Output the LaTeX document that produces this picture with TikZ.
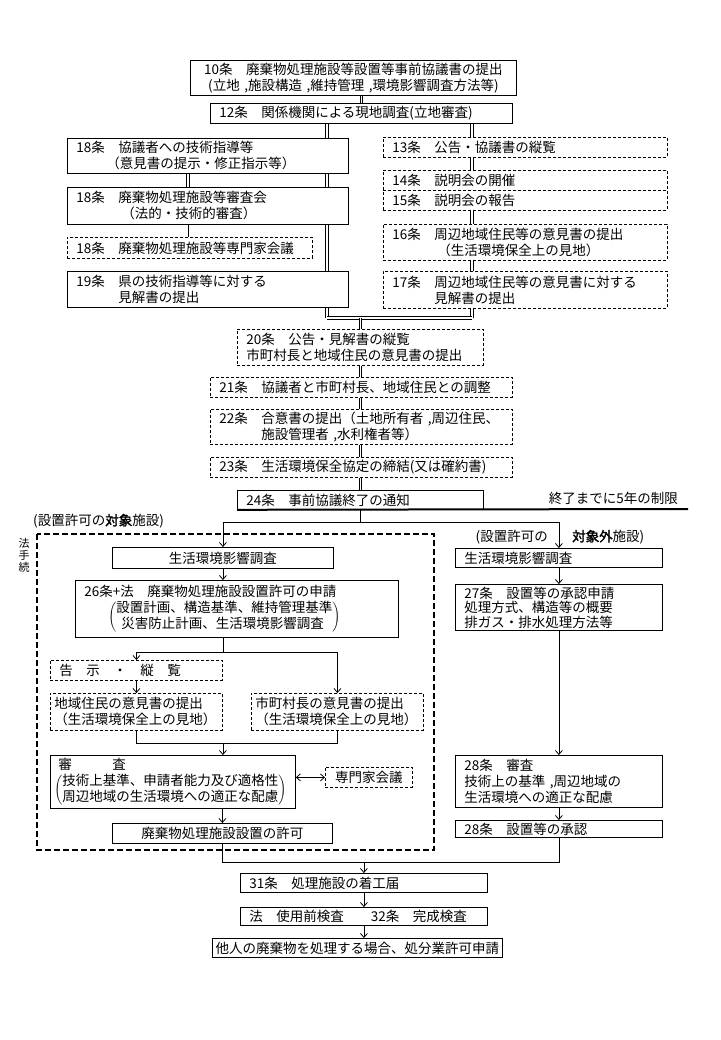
\documentclass[tikz,border=0pt]{standalone}
\usepackage{fontspec}
\usetikzlibrary{arrows.meta,backgrounds}
\newfontfamily\jpfont[AutoFakeBold=2]{Noto Sans CJK JP}
\newcommand\boxfont{\jpfont\fontsize{13.5pt}{16pt}\selectfont}
\newcommand\brk[2]{$\left(\renewcommand\arraystretch{0.92}\begin{tabular}{@{}l@{}}#1\\#2\end{tabular}\right)$}
\tikzset{
  sbox/.style={draw, fill=white, line width=0.8pt, anchor=north west, inner xsep=9pt, inner ysep=1pt, align=left, font=\boxfont},
  dbox/.style={sbox, dash pattern=on 3pt off 2pt},
  cbox/.style={sbox, align=center},
  dcbox/.style={dbox, align=center},
  dbl/.style={double, double distance=1.8pt, line width=0.7pt},
  conn/.style={line width=0.8pt},
  outerframe/.style={line width=2pt, dash pattern=on 6pt off 3pt},
  lbl/.style={font=\boxfont, inner sep=0pt},
}
\begin{document}
\begin{tikzpicture}[x=1pt, y=-1pt, >={Straight Barb[length=4pt,width=7pt]}]
    \useasboundingbox (0,0) rectangle (720,1040);

    % Prior consultation
    \node[cbox, text width=308pt, minimum height=35pt] (a10) at (190,60) {10条　廃棄物処理施設等設置等事前協議書の提出\\(立地 ,施設構造 ,維持管理 ,環境影響調査方法等)};
    \node[sbox, text width=284pt, minimum height=20pt] (a12) at (210,103) {12条　関係機関による現地調査(立地審査)};
    \draw[dbl] (a10.south -| a12.north) -- (a12.north);

    % Prefecture side
    \coordinate (kx) at (188,0);
    \node[sbox, text width=263pt, minimum height=35pt] (k18a) at (67,138) {18条　協議者への技術指導等\\\hspace*{30pt}（意見書の提示・修正指示等）};
    \node[sbox, text width=263pt, minimum height=37pt] (k18b) at (67,187) {18条　廃棄物処理施設等審査会\\\hspace*{45pt}（法的・技術的審査）};
    \node[dbox, text width=227pt, minimum height=21pt] (k18c) at (67,237) {18条　廃棄物処理施設等専門家会議};
    \node[sbox, text width=263pt, minimum height=36pt] (k19) at (67,271) {19条　県の技術指導等に対する\\\phantom{19条　}見解書の提出};
    \draw[dbl] (k18a.south -| kx) -- (k18b.north -| kx);
    \draw[conn] (k18b.south -| kx) -- (k18c.north -| kx);

    % Resident side
    \node[dbox, text width=266pt, minimum height=20pt] (r13) at (383,137) {13条　公告・協議書の縦覧};
    \node[dbox, text width=266pt, minimum height=20pt] (r14) at (383,170) {14条　説明会の開催};
    \node[dbox, text width=266pt, minimum height=20pt] (r15) at (383,190) {15条　説明会の報告};
    \node[dbox, text width=266pt, minimum height=36pt] (r16) at (383,224) {16条　周辺地域住民等の意見書の提出\\\hspace*{45pt}（生活環境保全上の見地）};
    \node[dbox, text width=266pt, minimum height=37pt] (r17) at (383,271) {17条　周辺地域住民等の意見書に対する\\\phantom{17条　}見解書の提出};

    % Two tracks (behind the boxes)
    \coordinate (jl) at (327,318);
    \coordinate (jr) at (472,318);
    \begin{scope}[on background layer]
        \draw[dbl] (a12.south -| jl) -- (jl);
        \draw[dbl] (a12.south -| jr) -- (jr);
        \draw[dbl] (jl) -- (jr);
    \end{scope}

    % Coordination
    \node[dbox, text width=228pt, minimum height=36pt] (c20) at (237,329) {20条　公告・見解書の縦覧\\市町村長と地域住民の意見書の提出};
    \node[dbox, text width=284pt, minimum height=20pt] (c21) at (210,377) {21条　協議者と市町村長、地域住民との調整};
    \node[dbox, text width=284pt, minimum height=35pt] (c22) at (210,409) {22条　合意書の提出（土地所有者 ,周辺住民、\\\phantom{22条　}施設管理者 ,水利権者等）};
    \node[dbox, text width=284pt, minimum height=20pt] (c23) at (210,457) {23条　生活環境保全協定の締結(又は確約書)};
    \node[sbox, text width=228pt, minimum height=19pt] (c24) at (237,490) {24条　事前協議終了の通知};
    \draw[dbl] (c20.north |- jl) -- (c20.north);
    \draw[dbl] (c20.south) -- (c21.north -| c20.south);
    \draw[dbl] (c21.south -| c20.south) -- (c22.north -| c20.south);
    \draw[dbl] (c22.south -| c20.south) -- (c23.north -| c20.south);
    \draw[dbl] (c23.south -| c20.south) -- (c24.north);

    % Five year limit
    \coordinate (lim) at (688,509);
    \draw[line width=2pt] (c24.south west) -- (lim);
    \node[lbl, anchor=south east] (limtxt) at (678,505) {終了までに5年の制限};
    \coordinate (sp) at (360,522);
    \draw[conn] (c24.south) -- (c24.south |- sp);

    % Permit track
    \draw[outerframe] (37,534) rectangle (434,850);
    \node[lbl, anchor=west] (ptitle) at (33,521) {(設置許可の\textbf{対象}施設)};
    \node[lbl, font=\jpfont\fontsize{11pt}{12pt}\selectfont, align=center] (hou) at (24,555) {法\\手\\続};
    \node[cbox, text width=203pt, minimum height=21pt] (p1) at (112,547) {生活環境影響調査};
    \node[sbox, text width=305pt, minimum height=57pt] (p26) at (75,580) {26条+法　廃棄物処理施設設置許可の申請\\[3pt]\hspace*{24pt}\brk{設置計画、構造基準、維持管理基準}{\hspace*{5pt}災害防止計画、生活環境影響調査}};
    \node[dbox, text width=154pt, minimum height=20pt] (pkoku) at (50,660) {告　示　・　縦　覧};
    \node[dbox, inner xsep=4pt, text width=164pt, minimum height=37pt] (pjumin) at (50,693) {地域住民の意見書の提出\\（生活環境保全上の見地）};
    \node[dbox, inner xsep=4pt, text width=164pt, minimum height=37pt] (pshi) at (251,693) {市町村長の意見書の提出\\（生活環境保全上の見地）};
    \node[sbox, inner xsep=4pt, inner ysep=0pt, text width=237pt, minimum height=53pt] (pshin) at (50,755) {\hspace*{4pt}審　　　査\\[3pt]\brk{技術上基準、申請者能力及び適格性}{周辺地域の生活環境への適正な配慮}};
    \node[dcbox, inner xsep=4pt, text width=79pt, minimum height=20pt] (psen) at (325,767) {専門家会議};
    \node[cbox, text width=202pt, minimum height=20pt] (pkyoka) at (112,823) {廃棄物処理施設設置の許可};

    \coordinate (sk) at (0,652);
    \coordinate (sj) at (0,743);
    \draw[conn, ->] (c24.south |- sp) -| (p1.north);
    \draw[conn, ->] (p1.south) -- (p26.north -| p1.south);
    \draw[conn] (p26.south -| p1.south) -- (p1.south |- sk);
    \draw[conn, ->] (p1.south |- sk) -| (pkoku.north);
    \draw[conn, ->] (p1.south |- sk) -| (pshi.north);
    \draw[conn, ->] (pkoku.south) -- (pjumin.north);
    \draw[conn] (pjumin.south) |- (pshi.south |- sj) -- (pshi.south);
    \draw[conn, ->] (p1.south |- sj) -- (pshin.north -| p1.south);
    \draw[conn, <->] (pshin.east |- psen.west) -- (psen.west);
    \draw[conn, ->] (pshin.south -| pkyoka.north) -- (pkyoka.north);

    % Non-permit track
    \node[lbl, anchor=east] (qtitle1) at (548,537) {(設置許可の};
    \node[lbl, anchor=west] (qtitle2) at (572,537) {\textbf{対象外}施設)};
    \node[sbox, text width=189pt, minimum height=19pt] (q1) at (455,548) {生活環境影響調査};
    \node[sbox, text width=189pt, minimum height=46pt, font=\jpfont\fontsize{13.5pt}{14.5pt}\selectfont] (q27) at (455,584) {27条　設置等の承認申請\\処理方式、構造等の概要\\排ガス・排水処理方法等};
    \node[sbox, text width=189pt, minimum height=52pt] (q28) at (455,755) {28条　審査\\技術上の基準 ,周辺地域の\\生活環境への適正な配慮};
    \node[sbox, text width=189pt, minimum height=17pt] (q28b) at (455,820) {28条　設置等の承認};
    \draw[conn, ->] (c24.south |- sp) -| (q1.north);
    \draw[conn, ->] (q1.south) -- (q27.north);
    \draw[conn, ->] (q27.south) -- (q28.north);
    \draw[conn, ->] (q28.south) -- (q28b.north);

    % Construction
    \coordinate (sb) at (0,862);
    \node[sbox, text width=229pt, minimum height=19pt] (f31) at (240,873) {31条　処理施設の着工届};
    \node[sbox, text width=229pt, minimum height=18pt] (f32) at (240,907) {法　使用前検査　　32条　完成検査};
    \node[cbox, inner xsep=2pt, text width=286pt, minimum height=19pt] (f33) at (212,938) {他人の廃棄物を処理する場合、処分業許可申請};
    \draw[conn] (pkyoka.south) |- (q28b.south |- sb) -- (q28b.south);
    \draw[conn, ->] (f31.north |- sb) -- (f31.north);
    \draw[conn, ->] (f31.south) -- (f32.north);
    \draw[conn, ->] (f32.south) -- (f33.north -| f32.south);
\end{tikzpicture}
\end{document}
